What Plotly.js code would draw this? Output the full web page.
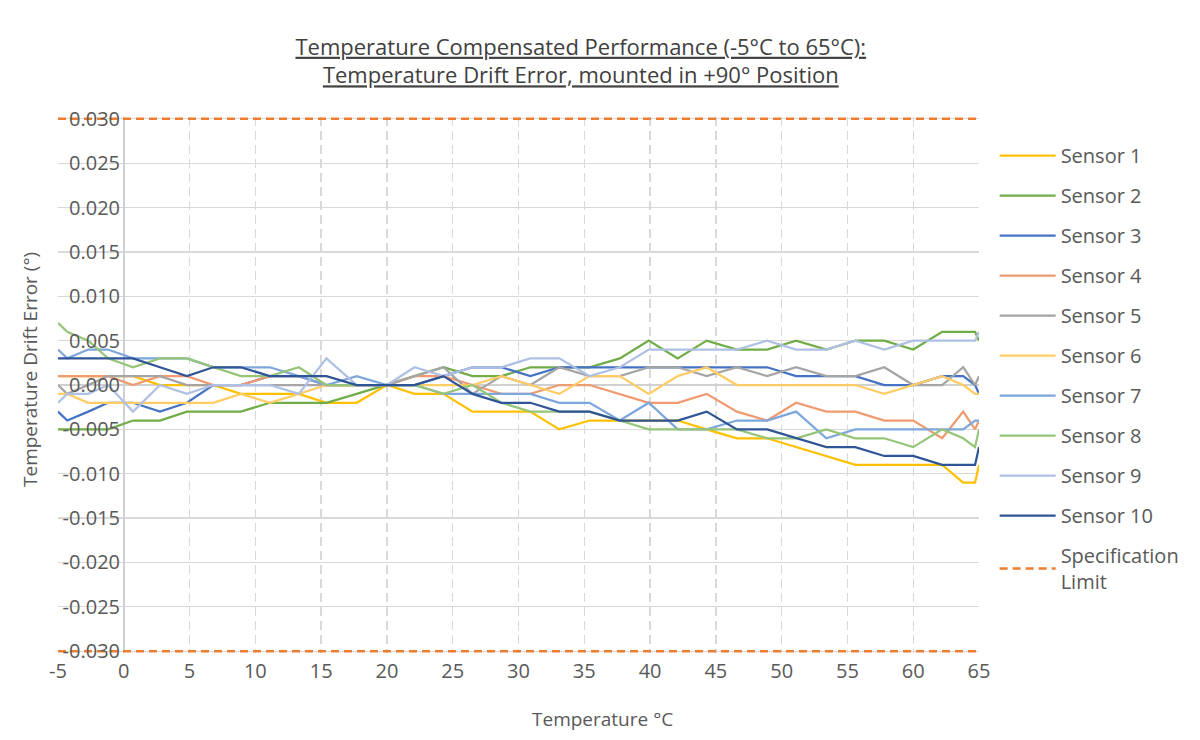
<!DOCTYPE html>
<html>
<head>
<meta charset="utf-8">
<script src="https://cdn.plot.ly/plotly-3.0.1.min.js"></script>
<style>
html,body{margin:0;padding:0;background:#fff;}
#chart{width:1200px;height:740px;outline:1px solid #cfcfcf;outline-offset:-1px;}
</style>
</head>
<body>
<div id="chart"></div>
<script>
// Temperature readings (°C)
const temps = [-5, -4.3, -2.7, -1.2, 0.7, 2.75, 4.8, 6.8, 8.9, 11.1, 13.3, 15.4, 17.7, 20.0, 22.1, 24.3, 26.5, 28.7, 30.9, 33.1, 35.4, 37.7, 39.9, 42.1, 44.3, 46.6, 48.9, 51.1, 53.4, 55.6, 57.8, 60.0, 62.2, 63.8, 64.7, 65.0];

// Drift error (°) per sensor
const sensor1 = [0.001,0.001,0.001,0.001,0.001,0,0,0,-0.001,-0.001,-0.001,-0.002,-0.002,0,-0.001,-0.001,-0.003,-0.003,-0.003,-0.005,-0.004,-0.004,-0.004,-0.004,-0.005,-0.006,-0.006,-0.007,-0.008,-0.009,-0.009,-0.009,-0.009,-0.011,-0.011,-0.009];
const sensor2 = [-0.005,-0.005,-0.005,-0.005,-0.004,-0.004,-0.003,-0.003,-0.003,-0.002,-0.002,-0.002,-0.001,0,0.001,0.002,0.001,0.001,0.002,0.002,0.002,0.003,0.005,0.003,0.005,0.004,0.004,0.005,0.004,0.005,0.005,0.004,0.006,0.006,0.006,0.005];
const sensor3 = [-0.003,-0.004,-0.003,-0.002,-0.002,-0.003,-0.002,0,0,0.001,0.001,0,0,0,0,0.001,0.002,0.002,0.001,0.002,0.002,0.002,0.002,0.002,0.002,0.002,0.002,0.001,0.001,0.001,0,0,0.001,0.001,0,-0.001];
const sensor4 = [0.001,0.001,0.001,0.001,0,0.001,0.001,0,0,0.001,0.001,0,0,0,0.001,0.001,0,-0.001,-0.001,0,0,-0.001,-0.002,-0.002,-0.001,-0.003,-0.004,-0.002,-0.003,-0.003,-0.004,-0.004,-0.006,-0.003,-0.005,-0.004];
const sensor5 = [0,-0.001,0,0.001,0.001,0.001,0,0,0,0,0,0,0,0,0.001,0.002,-0.001,0.001,0,0.002,0.001,0.001,0.002,0.002,0.001,0.002,0.001,0.002,0.001,0.001,0.002,0,0,0.002,0,0.001];
const sensor6 = [-0.001,-0.001,-0.002,-0.002,-0.002,-0.002,-0.002,-0.002,-0.001,-0.002,-0.001,0,0,0,0,0,0,0.001,0,-0.001,0.001,0.001,-0.001,0.001,0.002,0,0,0,0,0,-0.001,0,0.001,0,-0.001,-0.001];
const sensor7 = [0.004,0.003,0.004,0.004,0.003,0.003,0.003,0.002,0.002,0.002,0.001,0,0.001,0,0,-0.001,-0.001,-0.001,-0.001,-0.002,-0.002,-0.004,-0.002,-0.005,-0.005,-0.004,-0.004,-0.003,-0.006,-0.005,-0.005,-0.005,-0.005,-0.005,-0.004,-0.004];
const sensor8 = [0.007,0.006,0.005,0.003,0.002,0.003,0.003,0.002,0.001,0.001,0.002,0,0,0,0,-0.001,0,-0.002,-0.003,-0.003,-0.003,-0.004,-0.005,-0.005,-0.005,-0.005,-0.006,-0.006,-0.005,-0.006,-0.006,-0.007,-0.005,-0.006,-0.007,-0.005];
const sensor9 = [-0.002,-0.001,-0.001,0,-0.003,0,-0.001,0,0,0,-0.001,0.003,0,0,0.002,0.001,0.002,0.002,0.003,0.003,0.001,0.002,0.004,0.004,0.004,0.004,0.005,0.004,0.004,0.005,0.004,0.005,0.005,0.005,0.005,0.006];
const sensor10 = [0.003,0.003,0.003,0.003,0.003,0.002,0.001,0.002,0.002,0.001,0.001,0.001,0,0,0,0.001,-0.001,-0.002,-0.002,-0.003,-0.003,-0.004,-0.004,-0.004,-0.003,-0.005,-0.005,-0.006,-0.007,-0.007,-0.008,-0.008,-0.009,-0.009,-0.009,-0.007];

const specLimit = 0.03;

const seriesNames = ['Sensor 1','Sensor 2','Sensor 3','Sensor 4','Sensor 5','Sensor 6','Sensor 7','Sensor 8','Sensor 9','Sensor 10'];
const specName = 'Specification<br>Limit';

const xTickVals = [-5,0,5,10,15,20,25,30,35,40,45,50,55,60,65];
const xTickLabels = ['-5','0','5','10','15','20','25','30','35','40','45','50','55','60','65'];
const yTickVals = [-0.03,-0.025,-0.02,-0.015,-0.01,-0.005,0,0.005,0.01,0.015,0.02,0.025,0.03];
const yTickLabels = ['-0.030','-0.025','-0.020','-0.015','-0.010','-0.005','0.000','0.005','0.010','0.015','0.020','0.025','0.030'];

// styles
const seriesColors = ['#FFC000','#70AD47','#4472C4','#F09A70','#A5A5A5','#FFCC66','#7DA6DC','#96C57A','#AFC0E4','#2F5597'];
const specColor = '#ED7D31';

const allSeries = [sensor1,sensor2,sensor3,sensor4,sensor5,sensor6,sensor7,sensor8,sensor9,sensor10];

const traces = allSeries.map((vals, i) => ({
  type:'scatter', mode:'lines', x:temps, y:vals, name:seriesNames[i],
  legendgroup:'g'+i,
  line:{color:seriesColors[i], width:2.25}
}));

const tMin = temps[0], tMax = temps[temps.length-1];
traces.push({
  type:'scatter', mode:'lines', name:specName, legendgroup:'spec',
  x:[tMin, tMax, null, tMin, tMax],
  y:[specLimit, specLimit, null, -specLimit, -specLimit],
  line:{color:specColor, width:2.5, dash:'8px,5px'}
});

const layout = {
  width:1200, height:740,
  paper_bgcolor:'#ffffff', plot_bgcolor:'#ffffff',
  margin:{l:58, r:221, t:117, b:87, pad:0},
  font:{family:'"Open Sans", sans-serif', color:'#595959'},
  title:{
    text:'Temperature Compensated Performance (-5°C to 65°C):<br>Temperature Drift Error, mounted in +90° Position',
    font:{size:22, color:'#404040', lineposition:'under'},
    xref:'container', x:0.484, xanchor:'center',
    yref:'container', y:0.926, yanchor:'top'
  },
  showlegend:true,
  legend:{
    x:1.017, xanchor:'left', y:0.9645, yanchor:'top',
    font:{size:20, color:'#595959'},
    tracegroupgap:11, itemwidth:56, bgcolor:'rgba(0,0,0,0)',
    traceorder:'grouped'
  },
  xaxis:{
    range:[tMin, tMax],
    tickvals:xTickVals, ticktext:xTickLabels,
    showgrid:true, gridcolor:'#D9D9D9', gridwidth:1.3, griddash:'9px,5px',
    zeroline:true, zerolinecolor:'#D0D0D0', zerolinewidth:1.5,
    showline:false, ticks:'', ticklabelstandoff:4,
    tickfont:{size:20, color:'#595959'}
  },
  yaxis:{
    range:[-0.0302, 0.0302],
    tickvals:yTickVals, ticktext:yTickLabels,
    showgrid:true, gridcolor:'#D9D9D9', gridwidth:1.3,
    zeroline:true, zerolinecolor:'#D0D0D0', zerolinewidth:1.5,
    anchor:'free', position:0.0717,
    showline:false, ticks:'', ticklabelstandoff:4,
    tickfont:{size:20, color:'#595959'}
  },
  annotations:[
    {text:'Temperature °C', xref:'paper', yref:'paper', x:0.5907, y:-0.124, xanchor:'center', yanchor:'middle', showarrow:false, font:{size:19, color:'#595959'}},
    {text:'Temperature Drift Error (°)', xref:'paper', yref:'paper', x:-0.0304, y:0.528, xanchor:'center', yanchor:'middle', textangle:-90, showarrow:false, font:{size:19, color:'#595959'}}
  ]
};

Plotly.newPlot('chart', traces, layout, {displayModeBar:false, staticPlot:true});
</script>
</body>
</html>
